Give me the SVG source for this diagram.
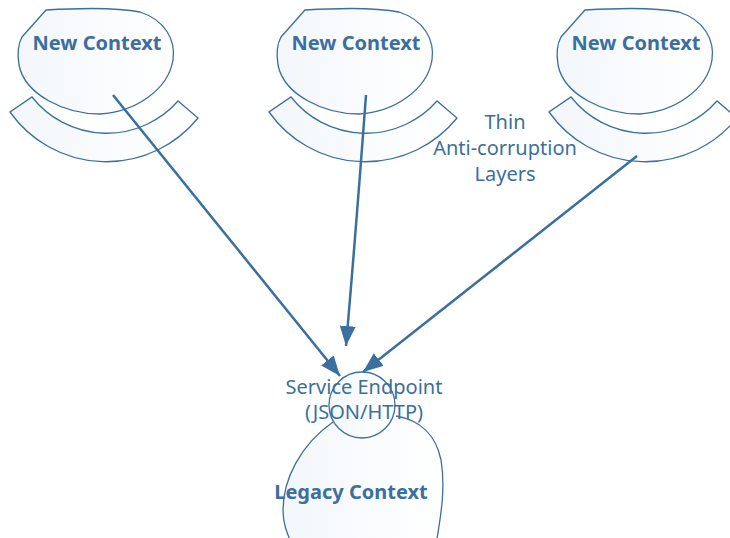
<svg xmlns="http://www.w3.org/2000/svg" width="730" height="538" viewBox="0 0 730 538">
<defs>
<linearGradient id="g" x1="0" y1="0" x2="1" y2="0">
<stop offset="0" stop-color="#f3f7fb"/><stop offset="1" stop-color="#ffffff"/>
</linearGradient>
<marker id="ah" markerUnits="userSpaceOnUse" markerWidth="22" markerHeight="18" refX="20" refY="8" orient="auto">
<path d="M0,0 L20,8 L0,16 Z" fill="#3a6f9e"/>
</marker>
<g id="ctx">
<path class="sh" d="M46,10 C80,8 120,8 140,12 C165,20 176,40 173,60 C168,90 135,112 100,114 C65,114 25,95 19,65 C17,52 18,44 22,37 Z"/>
<path class="sh" d="M32,97 A95,95 0 0 0 178,101 L198,118 A118,118 0 0 1 10,112 Z"/>
<text class="b" x="97" y="50">New Context</text>
</g>
</defs>
<style>
.sh{fill:url(#g);stroke:#3a6f9e;stroke-width:1.3}
text{font-family:"Noto Sans","Open Sans","Liberation Sans",sans-serif;fill:#3a6f9e;text-anchor:middle}
.b{font-weight:bold;font-size:20px}
.r{font-size:20px}
.con{fill:none;stroke:#3a6f9e;stroke-width:2.5;marker-end:url(#ah)}
</style>
<g id="node1"><use href="#ctx"/></g>
<g id="node2"><use href="#ctx" transform="translate(259,0)"/></g>
<g id="node3"><use href="#ctx" transform="translate(539,0)"/></g>
<g id="layers-label"><text class="r" x="505" y="129">Thin</text><text class="r" x="505" y="155">Anti-corruption</text><text class="r" x="505" y="181">Layers</text></g>
<g id="legacy">
<path class="sh" d="M333,422 C300,445 283,480 283,510 C283,525 288,535 292,545 L436,545 C440,520 446,490 441,460 C436,435 420,420 396,416"/>
<text class="b" x="351" y="499">Legacy Context</text>
</g>
<g id="endpoint">
<circle class="sh" cx="362" cy="405" r="33"/>
<text class="r" x="364" y="394">Service Endpoint</text>
<text class="r" x="364" y="419">(JSON/HTTP)</text>
</g>
<g id="connectors">
<path class="con" d="M113,95 L340,376"/>
<path class="con" d="M366,95 Q356,230 346,346"/>
<path class="con" d="M637,156 L363,372"/>
</g>
</svg>
